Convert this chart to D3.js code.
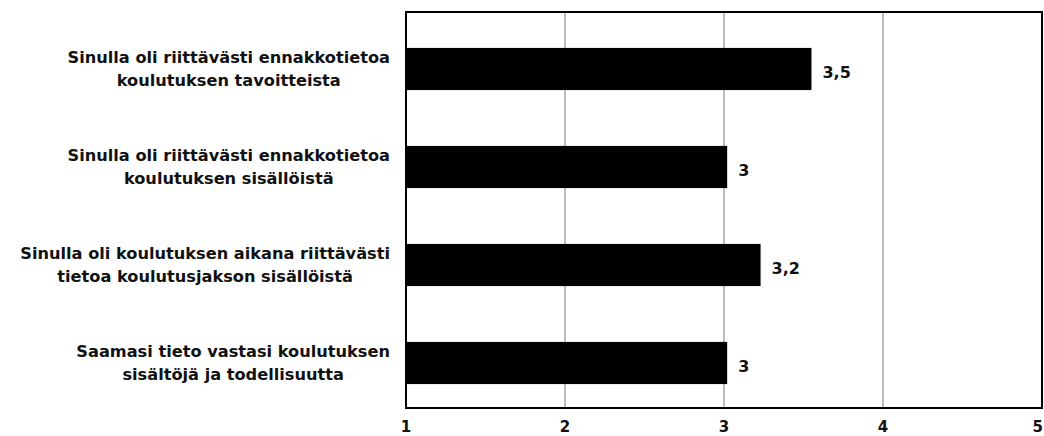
<!DOCTYPE html>
<html>
<head>
<meta charset="utf-8">
<script src="https://cdn.jsdelivr.net/npm/d3@7"></script>
<style>
  body { margin: 0; background: #fff; }
  svg text { font-family: "DejaVu Sans", sans-serif; font-weight: 700; fill: #111; }
</style>
</head>
<body>
<div id="chart"></div>
<script>
var categories = [
  ["Sinulla oli riittävästi ennakkotietoa", "koulutuksen tavoitteista"],
  ["Sinulla oli riittävästi ennakkotietoa", "koulutuksen sisällöistä"],
  ["Sinulla oli koulutuksen aikana riittävästi", "tietoa koulutusjakson sisällöistä"],
  ["Saamasi tieto vastasi koulutuksen", "sisältöjä ja todellisuutta"]
]
var values = [3.55, 3.02, 3.23, 3.02]
var valueLabels = ["3,5", "3", "3,2", "3"]
var xTicks = [1, 2, 3, 4, 5]

drawChart()

function drawChart() {
  var W = 1044, H = 436
  var left = 406, right = 1042, top = 12, bottom = 408

  var svg = d3.select("#chart").append("svg")
      .attr("width", W)
      .attr("height", H)

  var xScale = d3.scaleLinear().domain([1, 5]).range([left, right])
  var yScale = d3.scaleBand()
      .domain(d3.range(categories.length))
      .range([20, 412])
      .paddingInner(0.57)
      .paddingOuter(0.285)

  // grid
  svg.selectAll(".grid")
    .data(xTicks.slice(1, -1))
    .enter().append("line")
    .attr("x1", function(d){ return xScale(d) })
    .attr("x2", function(d){ return xScale(d) })
    .attr("y1", top)
    .attr("y2", bottom)
    .attr("stroke", "#a6a6a6")
    .attr("stroke-width", 1.5)

  svg.selectAll(".bar")
    .data(values)
    .enter().append("rect")
    .attr("x", xScale(1))
    .attr("y", function(d, i){ return yScale(i) })
    .attr("width", function(d){ return xScale(d) - xScale(1) })
    .attr("height", yScale.bandwidth())
    .attr("fill", "#000")

  // frame
  svg.append("rect")
    .attr("x", left).attr("y", top)
    .attr("width", right - left).attr("height", bottom - top)
    .attr("fill", "none")
    .attr("stroke", "#000")
    .attr("stroke-width", 2)

  svg.selectAll(".vlabel")
    .data(values)
    .enter().append("text")
    .attr("x", function(d){ return xScale(d) + 11 })
    .attr("y", function(d, i){ return yScale(i) + yScale.bandwidth() / 2 + 3 })
    .attr("dy", "0.35em")
    .attr("font-size", 16)
    .text(function(d, i){ return valueLabels[i] })

  // x tick labels (last one kept inside the page edge)
  svg.selectAll(".xtick")
    .data(xTicks)
    .enter().append("text")
    .attr("x", function(d, i){ return i == xTicks.length - 1 ? W - 1 : xScale(d) })
    .attr("y", 432)
    .attr("text-anchor", function(d, i){ return i == xTicks.length - 1 ? "end" : "middle" })
    .attr("font-size", 15)
    .text(function(d){ return d })

  // category labels: block right aligned, lines centred in block
  var labelRight = 390
  categories.forEach(function(lines, i) {
    var g = svg.append("g")
    var cy = yScale(i) + yScale.bandwidth() / 2
    var texts = lines.map(function(l, j) {
      return g.append("text")
        .attr("y", cy + (j - (lines.length - 1) / 2) * 23)
        .attr("dy", "0.35em")
        .attr("font-size", 16.2)
        .attr("text-anchor", "middle")
        .text(l)
    })
    var maxW = d3.max(texts, function(t){ return t.node().getComputedTextLength() })
    texts.forEach(function(t){ t.attr("x", labelRight - maxW / 2) })
  })
}
</script>
</body>
</html>
